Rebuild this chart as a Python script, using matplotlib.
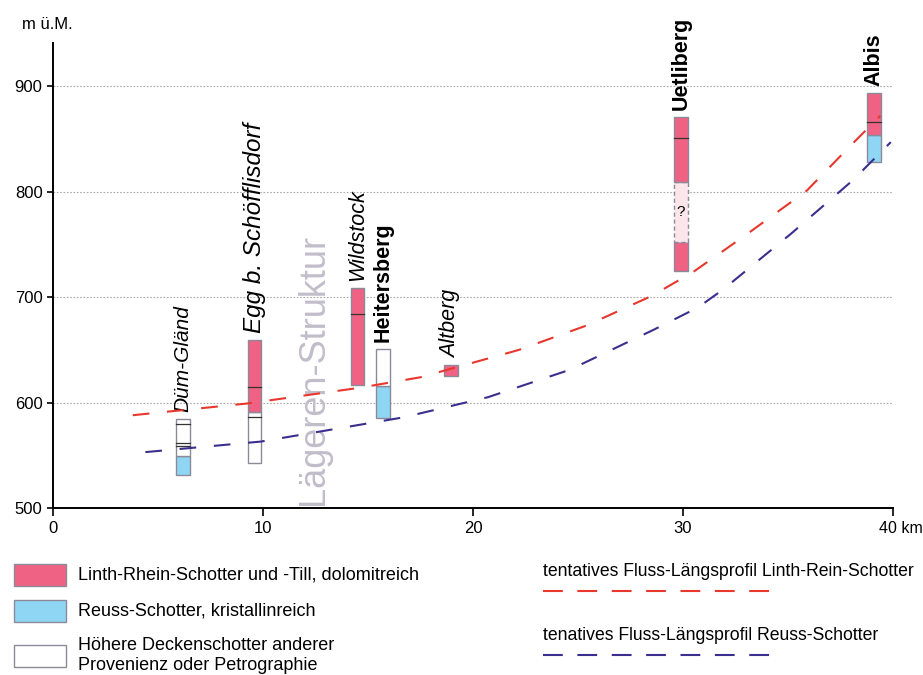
import matplotlib
matplotlib.use("Agg")
import matplotlib.pyplot as plt
from matplotlib.patches import Rectangle
from matplotlib.lines import Line2D

plt.rcParams['font.family'] = ['Liberation Sans', 'DejaVu Sans']

# --- data ------------------------------------------------------------------
names = ["Düm-Gländ", "Egg b. Schöfflisdorf", "Wildstock", "Heitersberg",
         "Altberg", "Uetliberg", "Albis"]
km = [6.2, 9.6, 14.5, 15.7, 18.95, 29.9, 39.1]
bold = [False, False, False, True, False, True, True]

# segments per site: (bottom, top, kind)  kind: r=Linth-Rhein, b=Reuss, w=other, q=uncertain
segments = [
    [(531, 549, 'b'), (549, 584, 'w')],
    [(543, 591, 'w'), (591, 659, 'r')],
    [(617, 709, 'r')],
    [(585, 616, 'b'), (616, 651, 'w')],
    [(625, 636, 'r')],
    [(725, 752, 'r'), (752, 809, 'q'), (809, 871, 'r')],
    [(828, 854, 'b'), (854, 894, 'r')],
]
# internal boundary lines
inner = [[559, 562, 580], [586, 615], [684], [], [], [851], [866]]

red_km = [3.8, 9.2, 14.6, 17.5, 22.2, 25.4, 28.5, 30.5, 33.0, 35.9, 38.1, 39.4]
red_m = [588, 599, 614, 624, 650, 673, 701, 724, 759, 801, 846, 872]
blue_km = [4.4, 9.9, 16.7, 20.7, 24.6, 28.6, 30.7, 31.9, 35.2, 38.1, 39.9]
blue_m = [553, 563, 586, 605, 631, 669, 690, 707, 761, 811, 847]

x_ticks = [0, 10, 20, 30, 40]
x_ticklabels = ["0", "10", "20", "30", ""]   # last one is drawn as "40 km"
y_ticks = [500, 600, 700, 800, 900]

legend_boxes = ["Linth-Rhein-Schotter und -Till, dolomitreich",
                "Reuss-Schotter, kristallinreich",
                "Höhere Deckenschotter anderer\nProvenienz oder Petrographie"]
legend_lines = ["tentatives Fluss-Längsprofil Linth-Rein-Schotter",
                "tenatives Fluss-Längsprofil Reuss-Schotter"]

# --- styles ------------------------------------------------------------------
fills = {'r': '#f06283', 'b': '#8ed6f3', 'w': '#ffffff', 'q': '#fbe6ea'}
edge = '#8a8a98'
red_c = '#e8372c'
blue_c = '#3a2f8e'
W = 0.66
label_size = [15, 17.5, 15.5, 15.5, 15.5, 15.5, 15.5]

fig = plt.figure(figsize=(9.23, 6.75), dpi=100)
ax = fig.add_axes([0.0574, 0.2474, 0.91, 0.6889])
ax.set_xlim(0, 40)
ax.set_ylim(500, 941)

for s in ax.spines.values():
    s.set_visible(False)
ax.spines['left'].set_visible(True)
ax.spines['bottom'].set_visible(True)
ax.spines['left'].set_linewidth(1.4)
ax.spines['bottom'].set_linewidth(1.4)

ax.set_xticks(x_ticks)
ax.set_xticklabels(x_ticklabels)
ax.set_yticks(y_ticks)
ax.tick_params(axis='both', labelsize=12, width=1.2, direction='out')
ax.tick_params(axis='x', length=6)
ax.tick_params(axis='y', length=4)

for g in y_ticks[1:]:
    ax.plot([0, 40], [g, g], color='#aaaaaa', lw=0.8, ls=(0, (1.5, 1.5)), zorder=0)

# Lägeren structure label
ax.text(12.4, 503, "Lägeren-Struktur", rotation=90, ha='center', va='bottom',
        fontsize=26, color='#c2bdca', zorder=1)

for i, name in enumerate(names):
    x0 = km[i] - W / 2
    for lo, hi, k in segments[i]:
        if k == 'q':
            ax.add_patch(Rectangle((x0, lo), W, hi - lo, facecolor=fills[k],
                                   edgecolor=edge, lw=1.0, ls=(0, (3, 2)), zorder=2))
            ax.text(km[i], (lo + hi) / 2, "?", ha='center', va='center',
                    fontsize=11, zorder=3)
        else:
            ax.add_patch(Rectangle((x0, lo), W, hi - lo, facecolor=fills[k],
                                   edgecolor=edge, lw=1.0, zorder=2))
    for y in inner[i]:
        ax.plot([x0, x0 + W], [y, y], color='#333333', lw=0.9, zorder=3)
    top = max(hi for lo, hi, k in segments[i])
    ax.annotate(name, (km[i], top), xytext=(0, 5), textcoords='offset points',
                rotation=90, ha='center', va='bottom', fontsize=label_size[i],
                fontweight='bold' if bold[i] else 'normal',
                fontstyle='normal' if bold[i] else 'italic', zorder=3)

ax.plot(red_km, red_m, color=red_c, lw=1.5, ls=(0, (8, 8.5)), zorder=4)
ax.plot(blue_km, blue_m, color=blue_c, lw=1.5, ls=(0, (8, 8.5)), zorder=4)

fig.text(0.024, 0.963, "m ü.M.", fontsize=12, va='center', ha='left')
ax.annotate("40 km", (x_ticks[-1], 500), xytext=(-10, -9.5),
            textcoords='offset points', ha='left', va='top', fontsize=11.5)

# --- legend -----------------------------------------------------------------
box_y = [575, 611, 656]
for lab, k, yp in zip(legend_boxes, ['r', 'b', 'w'], box_y):
    fy = 1 - yp / 675
    fig.add_artist(Rectangle((14 / 923, fy - 11 / 675), 52 / 923, 22 / 675,
                             facecolor=fills[k], edgecolor=edge, lw=1.0,
                             transform=fig.transFigure))
    ty = fy if k != 'w' else fy + 0.001
    fig.text(78 / 923, ty, lab, fontsize=13, va='center', ha='left',
             linespacing=1.2)

for lab, c, yp in zip(legend_lines, [red_c, blue_c], [572, 636]):
    fig.text(543 / 923, 1 - yp / 675, lab, fontsize=12.7, va='center', ha='left')
    ly = 1 - (yp + 19) / 675
    fig.add_artist(Line2D([543 / 923, 775 / 923], [ly, ly], color=c, lw=1.5,
                          ls=(0, (9.5, 7)), transform=fig.transFigure))

fig.savefig("out.png", dpi=100)
